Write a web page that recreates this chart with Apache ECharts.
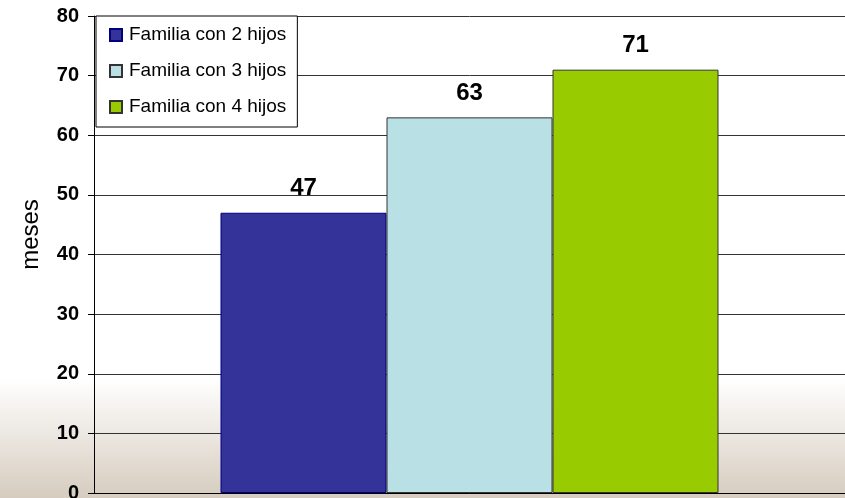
<!DOCTYPE html>
<html><head><meta charset="utf-8">
<script src="https://cdn.jsdelivr.net/npm/echarts@6/dist/echarts.min.js"></script>
<style>html,body{margin:0;padding:0;}#c{width:845px;height:498px;}</style>
</head><body><div id="c"></div>
<script>
const categories = [''];
const seriesNames = ['Familia con 2 hijos', 'Familia con 3 hijos', 'Familia con 4 hijos'];
const seriesValues = [[47], [63], [71]];
const seriesColors = ['#333399', '#b9e0e4', '#99cc00'];
const seriesBorders = ['#000080', '#333333', '#333333'];
const yTicks = [0, 10, 20, 30, 40, 50, 60, 70, 80];

const chart = echarts.init(document.getElementById('c'));
chart.setOption({
  animation: false,
  backgroundColor: new echarts.graphic.LinearGradient(0, 0, 0, 1, [
    {offset: 0, color: '#ffffff'},
    {offset: 0.76, color: '#ffffff'},
    {offset: 1, color: '#d6ccbf'}
  ]),
  textStyle: {fontFamily: 'Liberation Sans, Arial, sans-serif'},
  grid: {left: 94, right: 0, top: 16, bottom: 5, containLabel: false, outerBoundsMode: 'none'},
  legend: {
    orient: 'vertical', left: 96, top: 16,
    backgroundColor: '#ffffff', borderColor: '#000', borderWidth: 1,
    padding: [9, 11, 10, 13], itemGap: 16,
    itemWidth: 12, itemHeight: 12, icon: 'rect',
    textStyle: {fontSize: 19, color: '#000', lineHeight: 20, padding: [0, 0, 0, 2]},
    data: seriesNames
  },
  xAxis: {
    type: 'category', data: categories,
    axisLine: {lineStyle: {color: '#000', width: 1}},
    axisTick: {show: false}, axisLabel: {show: false}
  },
  yAxis: {
    type: 'value', min: yTicks[0], max: yTicks[yTicks.length - 1], interval: 10,
    name: 'meses', nameLocation: 'middle', nameGap: 51,
    nameTextStyle: {fontSize: 24, color: '#000', padding: [0, 0, 0, 40]},
    axisLine: {show: true, lineStyle: {color: '#000'}},
    axisTick: {show: true, length: 6, lineStyle: {color: '#000'}},
    axisLabel: {fontSize: 20, fontWeight: 'bold', color: '#000', margin: 15},
    splitLine: {lineStyle: {color: '#333', width: 1}}
  },
  series: seriesNames.map((n, i) => ({
    name: n, type: 'bar', data: seriesValues[i],
    barWidth: 166, barGap: '0%',
    itemStyle: {color: seriesColors[i], borderColor: seriesBorders[i], borderWidth: 1},
    label: {show: true, position: 'top', distance: 12, fontSize: 24, fontWeight: 'bold', color: '#000'}
  }))
});
</script></body></html>
